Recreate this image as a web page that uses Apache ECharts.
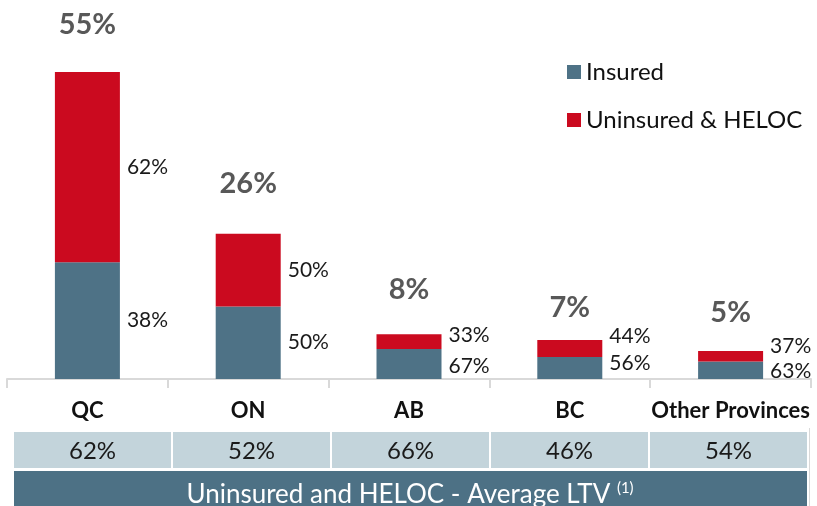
<!DOCTYPE html>
<html>
<head>
<meta charset="utf-8">
<script src="https://cdn.jsdelivr.net/npm/echarts@6/dist/echarts.min.js"></script>
<style>
  html, body { margin: 0; padding: 0; background: #fff; }
  #chart { width: 817px; height: 506px; }
</style>
</head>
<body>
<div id="chart"></div>
<script>
// provinces and their share of the portfolio
var provinces = ['QC', 'ON', 'AB', 'BC', 'Other Provinces'];
var shares = [55, 26, 8, 7, 5];
var insuredPct = [38, 50, 67, 56, 63];
var uninsuredPct = [62, 50, 33, 44, 37];
// uninsured and HELOC - average LTV
var avgLtv = [62, 52, 66, 46, 54];

// label nudges (px), so the small bars' labels don't collide
var totalGap = [33, 36, 30, 18, 24];
var insuredNudge = [0, 0, 2, -5, 1];
var uninsuredNudge = [0, 0, -6, -12, -10];

var BLUE = '#4e7286';
var RED = '#cb0a1f';
var FONT = 'Lato';

var insuredVals = [], uninsuredVals = [], totals = [];
for (var i = 0; i < provinces.length; i++) {
  var ins = shares[i] * insuredPct[i] / 100;
  insuredVals.push({
    value: ins,
    label: { offset: [0, insuredNudge[i]], formatter: insuredPct[i] + '%' }
  });
  uninsuredVals.push({
    value: shares[i] - ins,
    label: { offset: [0, uninsuredNudge[i]], formatter: uninsuredPct[i] + '%' }
  });
  totals.push({
    value: [i, shares[i]],
    label: { distance: totalGap[i], formatter: shares[i] + '%' }
  });
}

// table under the axis
var tableGraphics = [];
var x0 = 14, cellW = 157, gap = 2;
for (var j = 0; j < avgLtv.length; j++) {
  tableGraphics.push({
    type: 'rect',
    shape: { x: x0 + j * (cellW + gap), y: 432, width: cellW, height: 36 },
    style: { fill: '#c3d4db' },
    silent: true
  });
  tableGraphics.push({
    type: 'text',
    x: x0 + j * (cellW + gap) + cellW / 2,
    y: 451,
    style: {
      text: avgLtv[j] + '%', fontFamily: FONT, fontSize: 24,
      fill: '#1a1a1a', align: 'center', verticalAlign: 'middle'
    },
    silent: true
  });
}
tableGraphics.push({
  type: 'rect',
  shape: { x: 14, y: 471, width: 793, height: 40 },
  style: { fill: '#4d7185' },
  silent: true
});
tableGraphics.push({
  type: 'text',
  x: 410,
  y: 495,
  style: {
    text: '{a|Uninsured and HELOC - Average LTV }{s|(1)}',
    align: 'center', verticalAlign: 'middle',
    rich: {
      a: { fontFamily: FONT, fontSize: 26, fill: '#ffffff', color: '#ffffff' },
      s: { fontFamily: FONT, fontSize: 15, fill: '#ffffff', color: '#ffffff', verticalAlign: 'top', padding: [0, 0, 14, 0] }
    }
  },
  silent: true
});
tableGraphics.push({
  type: 'line',
  shape: { x1: 809.5, y1: 428, x2: 809.5, y2: 506 },
  style: { stroke: '#d9d9d9', lineWidth: 1 },
  silent: true
});

var myChart = echarts.init(document.getElementById('chart'));
var option = {
  animation: false,
  textStyle: { fontFamily: FONT },
  legend: {
    orient: 'vertical',
    left: 562,
    top: 55,
    itemWidth: 14,
    itemHeight: 14,
    itemGap: 24,
    icon: 'rect',
    textStyle: { fontFamily: FONT, fontSize: 24, color: '#111' },
    data: ['Insured', 'Uninsured & HELOC']
  },
  grid: { left: 7, right: 6, top: 72, bottom: 127 },
  xAxis: {
    type: 'category',
    data: provinces,
    axisLine: { lineStyle: { color: '#d9d9d9', width: 2 } },
    axisTick: { show: true, length: 9, lineStyle: { color: '#d9d9d9', width: 2 } },
    axisLabel: {
      interval: 0, margin: 21, fontFamily: FONT, fontSize: 22, fontWeight: 'bold', color: '#111'
    }
  },
  yAxis: {
    type: 'value', min: 0, max: 55,
    show: false, splitLine: { show: false }
  },
  series: [
    {
      name: 'Insured',
      type: 'bar',
      stack: 'total',
      barWidth: 65,
      itemStyle: { color: BLUE },
      label: {
        show: true, position: 'right', distance: 7,
        fontFamily: FONT, fontSize: 21, color: '#1a1a1a'
      },
      data: insuredVals
    },
    {
      name: 'Uninsured & HELOC',
      type: 'bar',
      stack: 'total',
      barWidth: 65,
      itemStyle: { color: RED },
      label: {
        show: true, position: 'right', distance: 7,
        fontFamily: FONT, fontSize: 21, color: '#1a1a1a'
      },
      data: uninsuredVals
    },
    {
      name: 'share',
      type: 'scatter',
      symbolSize: 0,
      silent: true,
      label: {
        show: true, position: 'top',
        fontFamily: FONT, fontSize: 29, fontWeight: 'bold', color: '#2e2e2e'
      },
      data: totals
    }
  ],
  graphic: tableGraphics
};
myChart.setOption(option);
</script>
</body>
</html>
